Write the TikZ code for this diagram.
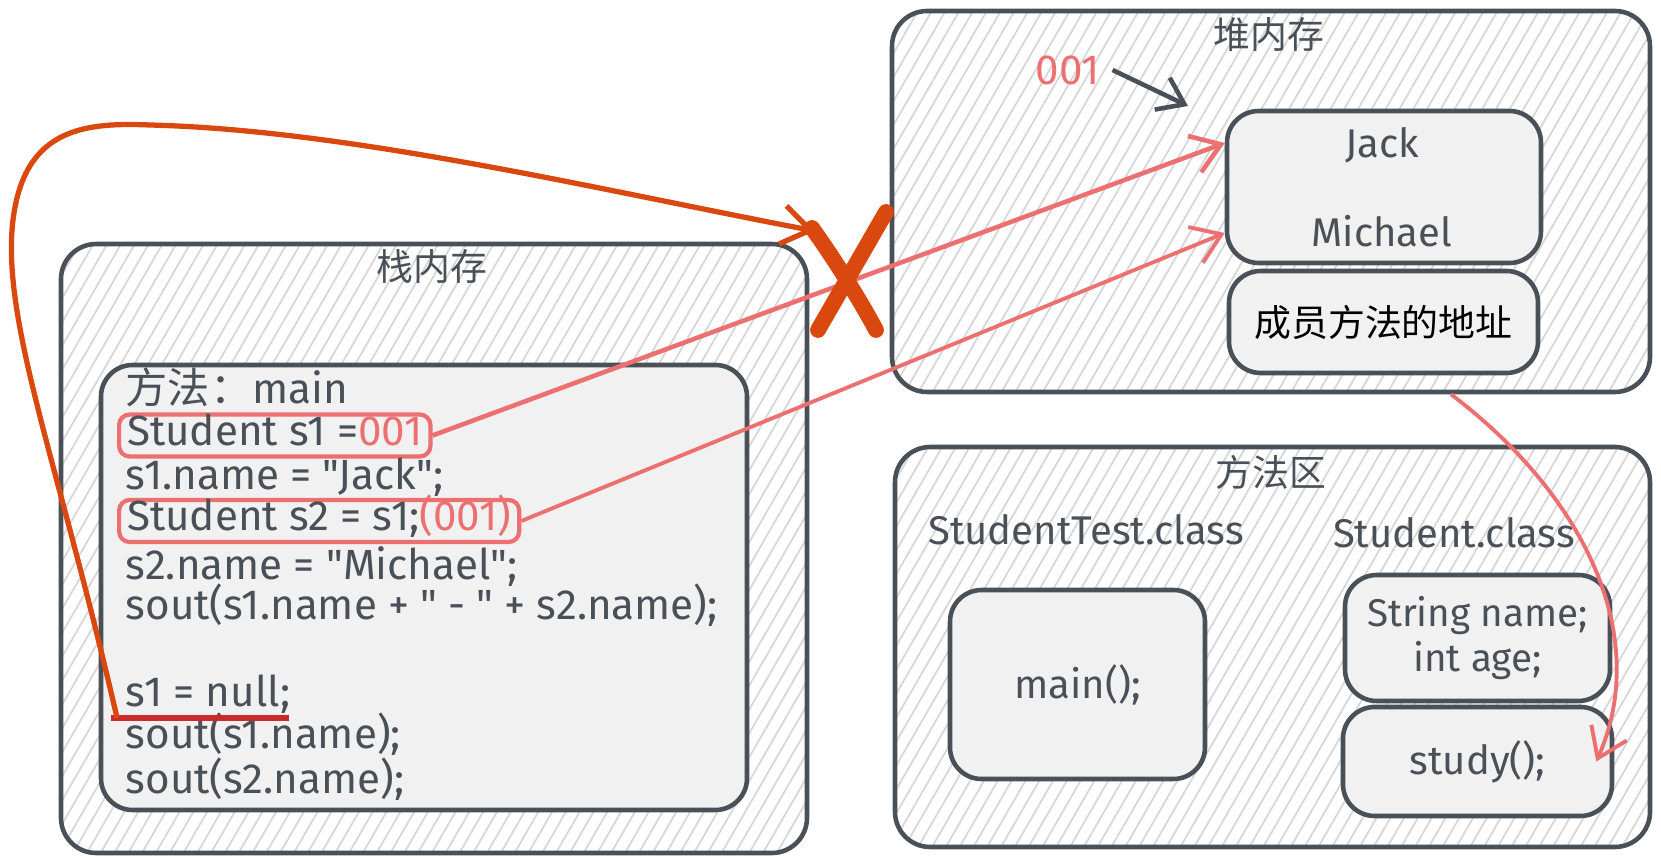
\documentclass[tikz,border=0pt]{standalone}
\usepackage{fontspec}
\setmainfont{Fira Sans}[Ligatures=TeXOff]
\newfontfamily\cjk{Noto Sans CJK SC}
\usepackage{xcolor}
\usetikzlibrary{arrows.meta, positioning, patterns.meta, calc}

\definecolor{edgegray}{RGB}{73,80,87}
\definecolor{cellfill}{RGB}{241,241,241}
\definecolor{hatchgray}{RGB}{214,214,214}
\definecolor{ptrred}{RGB}{236,112,112}
\definecolor{nullorange}{RGB}{217,72,15}
\definecolor{underred}{RGB}{201,42,42}

\begin{document}
\begin{tikzpicture}[
        x=0.1mm, y=-0.1mm, % one unit = one pixel of the sketch
        font=\fontsize{11.4}{13.5}\selectfont,
        membox/.style={draw=edgegray, line width=1.3pt, rounded corners=10pt,
            pattern={Lines[angle=60, distance=3.4pt, line width=0.5pt]}, pattern color=hatchgray},
        cell/.style={draw=edgegray, line width=1.3pt, fill=cellfill, rounded corners=9pt, text=edgegray},
        title/.style={text=edgegray, font=\cjk\fontsize{10.5}{12}\selectfont},
        code/.style={anchor=west, text=edgegray, inner xsep=0.8mm, inner ysep=0.3mm,
            text height=2.8mm, text depth=0.8mm, font=\fontsize{12}{14}\selectfont},
        marked/.style={draw=ptrred, line width=1.2pt, rounded corners=3pt},
        ptr/.style={draw=ptrred, line width=1.1pt, -{Straight Barb[length=8pt, width=11pt]}},
    ]
    \useasboundingbox (0,0) rectangle (1661,860);

    % --- memory areas ---
    \node[membox, minimum width=74.6mm, minimum height=60.9mm] (stack) at (434,548.5) {};
    \node[membox, minimum width=75.8mm, minimum height=38.1mm] (heap) at (1271,201.5) {};
    \node[membox, minimum width=75.5mm, minimum height=40mm] (methodarea) at (1272.5,647) {};

    \node[title] (stacktitle) at (432,267) {栈内存};
    \node[title] (heaptitle) at (1269,35) {堆内存};
    \node[title] (areatitle) at (1271,472) {方法区};

    % --- stack frame of main ---
    \node[cell, minimum width=64.6mm, minimum height=44.5mm] (frame) at (424,587.5) {};
    \node[code] (line0) at (117,394) {{\cjk 方法：}main};
    \node[code, marked] (line1) at (117,435.5) {Student s1 =\textcolor{ptrred}{001}};
    \node[code] (line2) at (117,480) {s1.name = "Jack";};
    \node[code, marked] (line3) at (117,521) {Student s2 = s1;\textcolor{ptrred}{(001)}};
    \node[code] (line4) at (117,569) {s2.name = "Michael";};
    \node[code] (line5) at (117,610) {sout(s1.name + " - " + s2.name);};
    \node[code] (line6) at (117,696) {s1 = null;};
    \node[code] (line7) at (117,738) {sout(s1.name);};
    \node[code] (line8) at (117,783) {sout(s2.name);};
    \draw[underred, line width=1.6pt] ([xshift=-0.6mm]line6.south west) -- ([xshift=-1mm]line6.south east);

    % --- heap object ---
    \node[cell, minimum width=31.4mm, minimum height=15.2mm] (object) at (1384,187) {};
    \node[text=edgegray] (jackname) at (1382,145) {Jack};
    \node[text=edgegray] (michaelname) at (1382,231) {Michael};
    \node[cell, minimum width=30.9mm, minimum height=10.2mm, text=black,
        font=\cjk\fontsize{10.5}{12}\selectfont] (methodaddr) at (1383.5,322) {成员方法的地址};
    \node[text=ptrred, font=\fontsize{12}{14}\selectfont] (addrlabel) at (1068,70) {001};
    \coordinate (addrtip) at (1188,106);
    \draw[edgegray, line width=1.3pt, -{Straight Barb[length=7pt, width=10pt]}] (addrlabel.east) -- (addrtip);

    % --- method area ---
    \node[text=edgegray] (testclass) at (1086,530) {StudentTest.class};
    \node[text=edgegray] (studentclass) at (1454,533) {Student.class};
    \node[cell, minimum width=25.5mm, minimum height=18.9mm] (mainfn) at (1077.5,684.5) {main();};
    \node[cell, minimum width=26.5mm, minimum height=12.6mm, align=center,
        font=\fontsize{11}{13}\selectfont] (fields) at (1477.5,638) {String name;\\int age;};
    \node[cell, minimum width=26.9mm, minimum height=10.9mm] (studyfn) at (1477.5,761.5) {study();};

    % --- references ---
    \draw[ptr, line width=1.3pt] (line1.east) -- ([yshift=4.4mm]object.west);
    \draw[ptr] (line3.east) -- ([yshift=-4.6mm]object.west);
    \draw[ptr] ([xshift=18mm]heap.south) .. controls (1590,500) and (1650,640) .. ([xshift=-1.8mm]studyfn.east);

    % s1 = null cuts the link
    \coordinate (cross) at (815,231);
    \draw[nullorange, line width=1.5pt, -{Straight Barb[length=8pt, width=11pt]}]
        (line6.south west) .. controls (60,470) and (5,330) .. (12,230)
        .. controls (20,130) and (80,122) .. (150,125)
        .. controls (350,130) and (600,190) .. (cross);
    \draw[nullorange, line width=4.5pt, line cap=round] (886,212) -- (818,330);
    \draw[nullorange, line width=4.5pt, line cap=round] (812,228) .. controls (835,260) and (860,300) .. (876,330);
\end{tikzpicture}
\end{document}
